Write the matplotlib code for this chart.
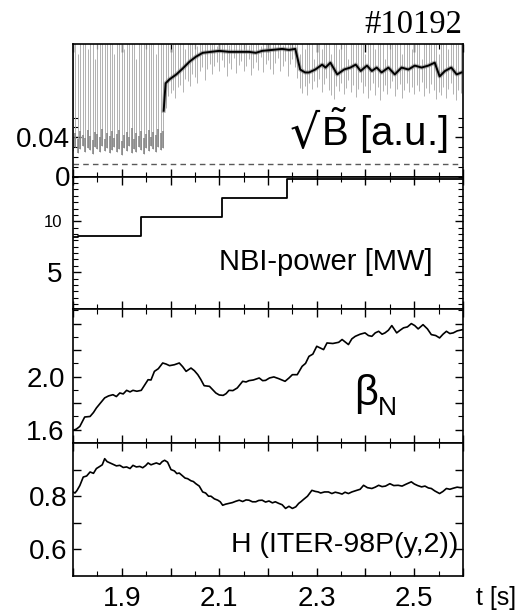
import numpy as np
import matplotlib
matplotlib.use('Agg')
import matplotlib.pyplot as plt
from matplotlib.ticker import FixedLocator, MultipleLocator

plt.rcParams['font.family'] = ['Liberation Sans', 'DejaVu Sans']
plt.rcParams['mathtext.fontset'] = 'custom'
plt.rcParams['mathtext.rm'] = 'Liberation Sans'

# ---- raw magnetic fluctuation signal (sampled every 5 ms from 1.8 s) ----
raw_lo = [0.026, 0.030, 0.024, 0.028, 0.031, 0.025, 0.029, 0.027, 0.023, 0.030,
          0.028, 0.025, 0.031, 0.026, 0.029, 0.024, 0.027, 0.030, 0.025, 0.028,
          0.022, 0.029, 0.026, 0.031, 0.024, 0.028, 0.025, 0.030, 0.027, 0.023,
          0.029, 0.026, 0.031, 0.028, 0.025, 0.030, 0.027, 0.029,
          0.070, 0.082, 0.085, 0.088, 0.080, 0.091, 0.093, 0.086, 0.099, 0.097,
          0.092, 0.104, 0.101, 0.095, 0.108, 0.112, 0.098, 0.110, 0.115, 0.104,
          0.113, 0.117,
          0.108, 0.119, 0.112, 0.102, 0.116, 0.110, 0.121, 0.105, 0.114, 0.118,
          0.107, 0.113, 0.120, 0.103, 0.111, 0.117, 0.109, 0.122, 0.106, 0.115,
          0.119, 0.110, 0.104, 0.116, 0.121, 0.108, 0.113, 0.118, 0.102, 0.115,
          0.120, 0.112, 0.100, 0.090, 0.085, 0.092, 0.083, 0.095, 0.089, 0.097,
          0.091, 0.099, 0.086, 0.094, 0.100, 0.088, 0.083, 0.079, 0.092, 0.087,
          0.095, 0.084, 0.090, 0.098, 0.086, 0.093, 0.081, 0.089, 0.096, 0.085,
          0.092, 0.080, 0.088, 0.095, 0.083, 0.091, 0.078, 0.087, 0.093, 0.084,
          0.090, 0.097, 0.082, 0.089, 0.094, 0.080, 0.088, 0.095, 0.086, 0.091,
          0.084, 0.093, 0.087, 0.096, 0.082, 0.090, 0.085, 0.094, 0.088, 0.079,
          0.086, 0.083, 0.091, 0.080, 0.089, 0.095, 0.084, 0.078, 0.088, 0.085, 0.090]
raw_hi = [0.14, 0.14, 0.125, 0.14, 0.14, 0.14, 0.13, 0.14, 0.14, 0.12,
          0.14, 0.14, 0.14, 0.135, 0.14, 0.14, 0.14, 0.125, 0.14, 0.14,
          0.14, 0.13, 0.14, 0.14, 0.14, 0.14, 0.12, 0.14, 0.14, 0.14,
          0.135, 0.14, 0.14, 0.14, 0.125, 0.14, 0.14, 0.14,
          0.14, 0.14, 0.13, 0.14, 0.14, 0.135, 0.14, 0.14, 0.13, 0.14,
          0.14, 0.14, 0.14, 0.133, 0.14, 0.14, 0.14, 0.135, 0.14, 0.14,
          0.14, 0.133, 0.14, 0.14, 0.14, 0.14, 0.134, 0.14, 0.14, 0.14,
          0.135, 0.14, 0.14, 0.14, 0.134, 0.14, 0.14, 0.14, 0.14, 0.133,
          0.14, 0.14, 0.14, 0.135, 0.14, 0.14, 0.14, 0.14, 0.134, 0.14,
          0.14, 0.14, 0.14, 0.14, 0.14, 0.125, 0.14, 0.13, 0.14, 0.14,
          0.14, 0.12, 0.14, 0.14, 0.13, 0.14, 0.14, 0.14, 0.125, 0.14,
          0.14, 0.13, 0.14, 0.14, 0.14, 0.12, 0.14, 0.14, 0.135, 0.14,
          0.14, 0.14, 0.125, 0.14, 0.14, 0.14, 0.13, 0.14, 0.14, 0.14,
          0.12, 0.14, 0.14, 0.14, 0.135, 0.14, 0.14, 0.125, 0.14, 0.14,
          0.14, 0.13, 0.14, 0.14, 0.14, 0.12, 0.14, 0.14, 0.14, 0.135,
          0.14, 0.14, 0.125, 0.14, 0.14, 0.14, 0.13, 0.14, 0.14, 0.14,
          0.135, 0.14, 0.14]
# dense dark band before the L-H transition
raw_mid = [0.040, 0.044, 0.038, 0.046, 0.042, 0.039, 0.047, 0.041, 0.037, 0.045,
           0.043, 0.040, 0.048, 0.038, 0.044, 0.041, 0.046, 0.039, 0.043, 0.047,
           0.036, 0.042, 0.045, 0.040, 0.049, 0.038, 0.044, 0.041, 0.046, 0.039,
           0.043, 0.047, 0.040, 0.045, 0.042, 0.048, 0.044, 0.046]
t_raw = np.round(1.8 + 0.005 * np.arange(len(raw_lo)), 3)

# smoothed signal
b_t = [1.986, 1.99, 1.998, 2.012, 2.025, 2.039, 2.052, 2.066, 2.083, 2.10, 2.12,
       2.141, 2.161, 2.175, 2.188, 2.209, 2.229, 2.243, 2.256, 2.266, 2.276, 2.284,
       2.297, 2.311, 2.318, 2.328, 2.342, 2.356, 2.369, 2.38, 2.39, 2.403, 2.413,
       2.423, 2.433, 2.447, 2.46, 2.474, 2.488, 2.501, 2.515, 2.529, 2.542, 2.552,
       2.563, 2.576, 2.587, 2.597]
b_val = [0.067, 0.095, 0.099, 0.104, 0.110, 0.117, 0.122, 0.126, 0.127, 0.128, 0.127,
         0.127, 0.127, 0.126, 0.128, 0.129, 0.130, 0.129, 0.130, 0.109, 0.106, 0.106,
         0.109, 0.114, 0.111, 0.116, 0.104, 0.109, 0.111, 0.114, 0.1075, 0.113, 0.1075,
         0.111, 0.106, 0.111, 0.104, 0.111, 0.109, 0.113, 0.111, 0.113, 0.116, 0.102,
         0.1075, 0.111, 0.104, 0.106]
b_offset = 0.0125

# NBI power
nbi_t = [1.8, 1.81, 1.940, 2.1055, 2.238, 2.6]
nbi_p = [8.45, 8.53, 10.46, 12.25, 14.16, 14.16]

# normalised beta
beta_t = [1.8, 1.807, 1.814, 1.824, 1.835, 1.842, 1.848, 1.856, 1.865, 1.873, 1.882,
          1.889, 1.896, 1.903, 1.91, 1.917, 1.923, 1.931, 1.94, 1.954, 1.96, 1.967,
          1.975, 1.984, 1.991, 1.998, 2.008, 2.018, 2.025, 2.032, 2.042, 2.049, 2.056,
          2.062, 2.069, 2.08, 2.087, 2.093, 2.1, 2.108, 2.114, 2.12, 2.128, 2.137,
          2.148, 2.155, 2.161, 2.17, 2.182, 2.189, 2.195, 2.203, 2.212, 2.222, 2.235,
          2.243, 2.25, 2.26, 2.27, 2.277, 2.284, 2.292, 2.30, 2.314, 2.321, 2.333,
          2.345, 2.352, 2.365, 2.372, 2.379, 2.389, 2.399, 2.406, 2.413, 2.42, 2.427,
          2.434, 2.44, 2.447, 2.454, 2.464, 2.471, 2.478, 2.486, 2.494, 2.501, 2.508,
          2.518, 2.527, 2.535, 2.544, 2.552, 2.559, 2.566, 2.573, 2.58, 2.588, 2.6]
beta_v = [1.595, 1.605, 1.625, 1.696, 1.70, 1.73, 1.764, 1.80, 1.84, 1.855, 1.864,
          1.85, 1.877, 1.87, 1.897, 1.885, 1.897, 1.89, 1.897, 1.977, 1.975, 2.04,
          2.06, 2.103, 2.095, 2.083, 2.09, 2.103, 2.075, 2.04, 2.065, 2.045, 2.015,
          1.98, 1.932, 1.927, 1.90, 1.877, 1.862, 1.859, 1.872, 1.897, 1.895, 1.915,
          1.965, 1.96, 1.97, 1.975, 1.99, 1.97, 1.972, 1.99, 1.998, 1.985, 1.965,
          1.99, 2.015, 2.015, 2.078, 2.10, 2.153, 2.17, 2.229, 2.204, 2.254, 2.25,
          2.259, 2.28, 2.242, 2.285, 2.304, 2.32, 2.33, 2.31, 2.304, 2.33, 2.342,
          2.32, 2.33, 2.35, 2.385, 2.33, 2.35, 2.368, 2.375, 2.40, 2.385, 2.36,
          2.392, 2.36, 2.317, 2.31, 2.292, 2.32, 2.342, 2.325, 2.33, 2.345, 2.355]

# confinement factor
h_t = [1.8, 1.804, 1.808, 1.814, 1.821, 1.828, 1.835, 1.842, 1.848, 1.855, 1.86,
       1.865, 1.87, 1.876, 1.882, 1.889, 1.896, 1.903, 1.91, 1.917, 1.923, 1.93,
       1.937, 1.943, 1.949, 1.954, 1.96, 1.966, 1.971, 1.978, 1.983, 1.988, 1.994,
       2.001, 2.008, 2.013, 2.018, 2.025, 2.03, 2.035, 2.042, 2.047, 2.052, 2.059,
       2.066, 2.072, 2.078, 2.083, 2.09, 2.097, 2.102, 2.107, 2.113, 2.12, 2.127,
       2.134, 2.141, 2.148, 2.155, 2.161, 2.168, 2.175, 2.181, 2.188, 2.195, 2.202,
       2.209, 2.215, 2.222, 2.229, 2.236, 2.243, 2.25, 2.257, 2.263, 2.268, 2.273,
       2.281, 2.29, 2.297, 2.303, 2.308, 2.316, 2.324, 2.331, 2.338, 2.345, 2.352,
       2.358, 2.365, 2.372, 2.382, 2.389, 2.396, 2.404, 2.413, 2.42, 2.427, 2.434,
       2.441, 2.45, 2.458, 2.467, 2.475, 2.483, 2.494, 2.5, 2.507, 2.515, 2.522,
       2.529, 2.535, 2.542, 2.552, 2.559, 2.566, 2.573, 2.58, 2.588, 2.595, 2.6]
h_v = [0.816, 0.812, 0.821, 0.84, 0.872, 0.876, 0.891, 0.886, 0.904, 0.912, 0.918,
       0.941, 0.93, 0.925, 0.92, 0.914, 0.916, 0.908, 0.91, 0.904, 0.916, 0.91,
       0.912, 0.907, 0.915, 0.925, 0.918, 0.922, 0.925, 0.92, 0.93, 0.935, 0.928,
       0.90, 0.895, 0.885, 0.887, 0.876, 0.868, 0.866, 0.858, 0.855, 0.847, 0.838,
       0.816, 0.812, 0.80, 0.80, 0.79, 0.785, 0.779, 0.766, 0.77, 0.773, 0.776,
       0.781, 0.785, 0.78, 0.786, 0.785, 0.779, 0.779, 0.784, 0.785, 0.778, 0.782,
       0.775, 0.779, 0.773, 0.768, 0.754, 0.762, 0.754, 0.76, 0.773, 0.78, 0.788,
       0.80, 0.822, 0.818, 0.816, 0.812, 0.816, 0.816, 0.81, 0.815, 0.812, 0.808,
       0.815, 0.81, 0.816, 0.822, 0.826, 0.841, 0.832, 0.829, 0.834, 0.841, 0.836,
       0.838, 0.847, 0.84, 0.841, 0.838, 0.845, 0.854, 0.846, 0.84, 0.835, 0.838,
       0.831, 0.829, 0.82, 0.81, 0.818, 0.829, 0.826, 0.83, 0.834, 0.832, 0.833]

# ---------------- figure ----------------
fig = plt.figure(figsize=(5.19, 6.12), dpi=100)
L, W = 73 / 519, 390 / 519
edges = [44, 176.5, 309, 443, 576]
axes = []
for i in range(4):
    b = 1 - edges[i + 1] / 612
    h = (edges[i + 1] - edges[i]) / 612
    axes.append(fig.add_axes([L, b, W, h]))
ax1, ax2, ax3, ax4 = axes

for ax in axes:
    ax.set_xlim(1.8, 2.6)
    ax.xaxis.set_major_locator(MultipleLocator(0.1))
    ax.xaxis.set_minor_locator(MultipleLocator(0.05))
    ax.tick_params(which='both', direction='in', top=True, right=True, labelsize=20)
    ax.tick_params(which='major', length=6, width=1)
    ax.tick_params(which='minor', length=3.5, width=0.8)
    for s in ax.spines.values():
        s.set_linewidth(1.2)
    if ax is not ax4:
        ax.tick_params(axis='x', labelbottom=False)

# top panel: magnetic fluctuations
ax1.vlines(t_raw, raw_lo, raw_hi, color='0.65', lw=0.6)
ax1.vlines(t_raw[:len(raw_mid)], raw_lo[:len(raw_mid)], raw_mid, color='0.5', lw=1.1)
ax1.plot(b_t, b_val, color='0.45', lw=3, alpha=0.5)
ax1.plot(b_t, b_val, color='black', lw=1.4)
ax1.axhline(b_offset, color='0.35', ls=(0, (4, 3)), lw=1)
ax1.set_ylim(0, 0.135)
ax1.yaxis.set_major_locator(FixedLocator([0, 0.04]))
ax1.yaxis.set_minor_locator(FixedLocator([0.01, 0.02, 0.03, 0.05, 0.06]))
ax1.set_yticklabels(['0', '0.04'])
ax1.tick_params(axis='y', pad=2)
ax1.text(290 / 519, 1 - 148 / 612, '√', transform=fig.transFigure, fontsize=34,
         ha='left', va='baseline', family=['DejaVu Sans'])
ax1.text(321 / 519, 1 - 146 / 612, r'$\tilde{\mathrm{B}}$ [a.u.]', transform=fig.transFigure,
         fontsize=29, ha='left', va='baseline')
fig.text(462 / 519, 1 - 33 / 612, '#10192', fontsize=23.5, ha='right', va='baseline',
         family=['Liberation Serif'])

# NBI power
ax2.plot(nbi_t, nbi_p, color='black', lw=1.3, drawstyle='steps-post')
ax2.set_ylim(1.39, 14.39)
ax2.yaxis.set_major_locator(FixedLocator([5, 10]))
ax2.yaxis.set_minor_locator(MultipleLocator(0.625))
ax2.set_yticklabels(['5', '10'])
ax2.get_yticklabels()[1].set_fontsize(12)
ax2.tick_params(axis='y', pad=8)
ax2.text(433 / 519, 1 - 270 / 612, 'NBI-power [MW]', transform=fig.transFigure,
         fontsize=21, ha='right', va='baseline')

# beta_N
ax3.plot(beta_t, beta_v, color='black', lw=1.2)
ax3.set_ylim(1.50, 2.51)
ax3.yaxis.set_major_locator(FixedLocator([1.6, 1.8, 2.0, 2.2, 2.4]))
ax3.yaxis.set_minor_locator(FixedLocator([1.7, 1.9, 2.1, 2.3, 2.5]))
ax3.set_yticklabels(['1.6', '', '2.0', '', ''])
ax3.tick_params(axis='y', pad=6)
ax3.text(354 / 519, 1 - 405 / 612, 'β', transform=fig.transFigure, fontsize=30,
         ha='left', va='baseline')
ax3.text(378 / 519, 1 - 415 / 612, 'N', transform=fig.transFigure, fontsize=19,
         ha='left', va='baseline')

# H factor
ax4.plot(h_t, h_v, color='black', lw=1.2)
ax4.set_ylim(0.5, 1.0)
ax4.yaxis.set_major_locator(FixedLocator([0.6, 0.7, 0.8, 0.9]))
ax4.set_yticklabels(['0.6', '', '0.8', ''])
ax4.tick_params(axis='y', pad=4)
ax4.set_xticks([1.8, 1.9, 2.0, 2.1, 2.2, 2.3, 2.4, 2.5, 2.6])
ax4.set_xticklabels(['', '1.9', '', '2.1', '', '2.3', '', '2.5', ''])
ax4.tick_params(axis='x', pad=7)
ax4.text(458 / 519, 1 - 552 / 612, 'H (ITER-98P(y,2))', transform=fig.transFigure,
         fontsize=20.5, ha='right', va='baseline')
fig.text(476 / 519, 1 - 605 / 612, 't [s]', fontsize=18, ha='left', va='baseline')

fig.savefig('out.png', dpi=100)
